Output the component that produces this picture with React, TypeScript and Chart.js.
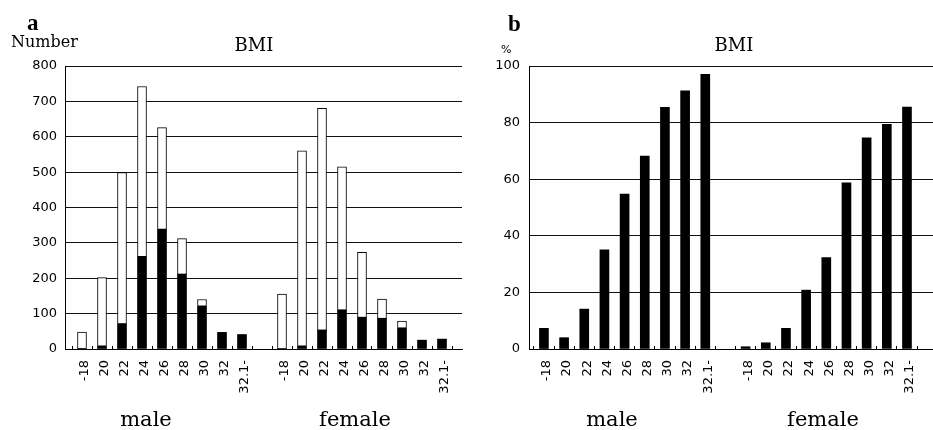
import React, { useEffect, useRef } from 'react';
import { Chart, registerables } from 'chart.js';

Chart.register(...registerables);

// ---- data ----
const bmiLabels = ['-18', '20', '22', '24', '26', '28', '30', '32', '32.1-'];
const groupLabels = ['male', 'female'];

// panel a: counts (filled = black part, open = white part stacked on top)
const maleFilled = [2, 9, 72, 262, 339, 212, 122, 47, 41];
const maleOpen = [46, 193, 427, 480, 287, 100, 18, 0, 0];
const femaleFilled = [1, 9, 54, 111, 90, 87, 60, 25, 28];
const femaleOpen = [154, 551, 626, 404, 183, 54, 19, 0, 0];

// panel b: percentages
const malePercent = [7.3, 4.0, 14.1, 35.0, 54.7, 68.2, 85.4, 91.2, 97.1];
const femalePercent = [0.8, 2.2, 7.3, 20.8, 32.3, 58.7, 74.6, 79.4, 85.5];

const FEMALE_START = bmiLabels.length + 1; // one empty slot between groups

function toPoints(male: number[], female: number[]) {
  return male
    .map((v, i) => ({ x: i, y: v }))
    .concat(female.map((v, i) => ({ x: FEMALE_START + i, y: v })));
}

function labelFor(v: number): string {
  if (v >= 0 && v < bmiLabels.length) return bmiLabels[v];
  const j = v - FEMALE_START;
  if (j >= 0 && j < bmiLabels.length) return bmiLabels[j];
  return '';
}

type PanelCfg = {
  width: number;
  yWidth: number;
  padRight: number;
  xMin: number;
  xMax: number;
  yMax: number;
  yStep: number;
  yPad: number;
  datasets: any[];
};

function makeOptions(p: PanelCfg): any {
  return {
    responsive: false,
    maintainAspectRatio: false,
    animation: false,
    events: [],
    layout: { padding: { top: 66, right: p.padRight, left: 0, bottom: 0 } },
    plugins: {
      legend: { display: false },
      tooltip: { enabled: false },
      title: { display: false },
    },
    scales: {
      x: {
        type: 'linear',
        offset: false,
        min: p.xMin,
        max: p.xMax,
        afterFit: (s: any) => {
          s.height = 81;
          s.paddingLeft = 0;
          s.paddingRight = 0;
        },
        grid: {
          display: true,
          drawOnChartArea: false,
          drawTicks: true,
          tickLength: -3,
          offset: true,
          color: '#000',
          lineWidth: 1,
        },
        border: { display: true, color: '#000', width: 1 },
        ticks: {
          stepSize: 1,
          maxTicksLimit: 100,
          includeBounds: false,
          autoSkip: false,
          maxRotation: 90,
          minRotation: 90,
          padding: 14,
          labelOffset: 3,
          color: '#000',
          font: { family: 'DejaVu Sans', size: 13 },
          callback: (v: number) => labelFor(v),
        },
      },
      y: {
        stacked: true,
        min: 0,
        max: p.yMax,
        afterFit: (s: any) => {
          s.width = p.yWidth;
        },
        grid: { color: '#111', lineWidth: 1, drawTicks: false },
        border: { display: true, color: '#000', width: 1 },
        ticks: {
          stepSize: p.yStep,
          padding: p.yPad,
          color: '#000',
          font: { family: 'DejaVu Sans', size: 13 },
        },
      },
    },
  };
}

function Panel({ cfg, left }: { cfg: PanelCfg; left: number }) {
  const ref = useRef<HTMLCanvasElement | null>(null);
  useEffect(() => {
    if (!ref.current) return;
    const chart = new Chart(ref.current, {
      type: 'bar',
      data: { datasets: cfg.datasets },
      options: makeOptions(cfg),
    });
    return () => chart.destroy();
  }, [cfg]);
  return (
    <canvas
      ref={ref}
      width={cfg.width}
      height={430}
      style={{ position: 'absolute', left, top: 0, width: cfg.width, height: 430 }}
    />
  );
}

const barBase = { barThickness: 9, grouped: false };

const panelA: PanelCfg = {
  width: 466,
  yWidth: 65,
  padRight: 4,
  xMin: -0.85,
  xMax: 19,
  yMax: 800,
  yStep: 100,
  yPad: 8,
  datasets: [
    {
      ...barBase,
      data: toPoints(maleFilled, femaleFilled),
      backgroundColor: '#000',
      borderWidth: 0,
    },
    {
      ...barBase,
      data: toPoints(maleOpen, femaleOpen),
      backgroundColor: '#fff',
      borderColor: '#000',
      borderWidth: 1,
    },
  ],
};

const panelB: PanelCfg = {
  width: 467,
  yWidth: 63,
  padRight: 0,
  xMin: -0.74,
  xMax: 19.29,
  yMax: 100,
  yStep: 20,
  yPad: 9,
  datasets: [
    {
      ...barBase,
      data: toPoints(malePercent, femalePercent),
      backgroundColor: '#000',
      borderWidth: 0,
    },
  ],
};

const serif = "'DejaVu Serif', serif";
const letterFont = "'Liberation Serif', serif";

function Txt({
  text,
  x,
  top,
  size,
  family,
  bold,
  center,
}: {
  text: string;
  x: number;
  top: number;
  size: number;
  family: string;
  bold?: boolean;
  center?: boolean;
}) {
  return (
    <div
      style={{
        position: 'absolute',
        left: x,
        top,
        fontSize: size,
        lineHeight: 1,
        fontFamily: family,
        fontWeight: bold ? 'bold' : 'normal',
        color: '#000',
        whiteSpace: 'nowrap',
        transform: center ? 'translateX(-50%)' : undefined,
      }}
    >
      {text}
    </div>
  );
}

export default function App() {
  return (
    <div
      style={{
        position: 'absolute',
        left: 0,
        top: 0,
        width: 933,
        height: 430,
        background: '#fff',
        overflow: 'hidden',
      }}
    >
      <Panel cfg={panelA} left={0} />
      <Panel cfg={panelB} left={466} />

      <Txt text="a" x={27} top={11} size={23} family={letterFont} bold />
      <Txt text="Number" x={11} top={33.5} size={16} family={serif} />
      <Txt text="BMI" x={254} top={36} size={18} family={serif} center />
      <Txt text={groupLabels[0]} x={146} top={409} size={21} family={serif} center />
      <Txt text={groupLabels[1]} x={355} top={409} size={21} family={serif} center />

      <Txt text="b" x={508} top={12} size={23} family={letterFont} bold />
      <Txt text="%" x={501} top={44} size={11} family="'DejaVu Sans', sans-serif" />
      <Txt text="BMI" x={734} top={36} size={18} family={serif} center />
      <Txt text={groupLabels[0]} x={612} top={409} size={21} family={serif} center />
      <Txt text={groupLabels[1]} x={823} top={409} size={21} family={serif} center />
    </div>
  );
}
